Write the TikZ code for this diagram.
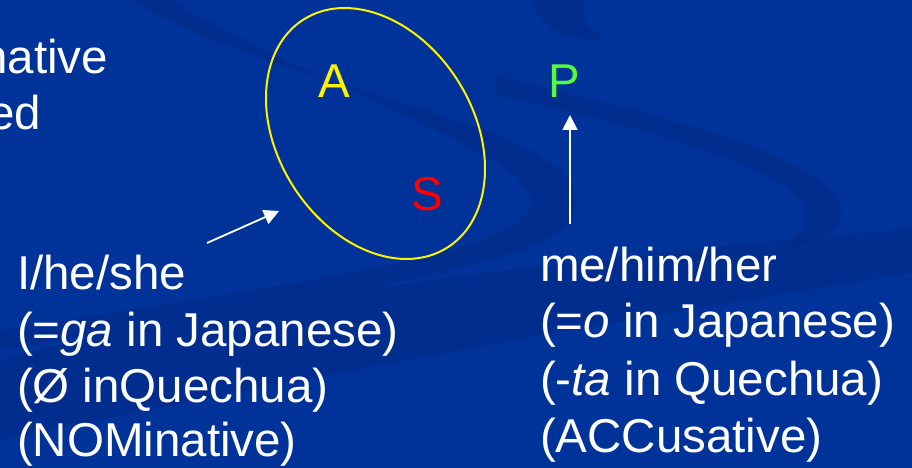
\documentclass[tikz,border=0pt]{standalone}
\usepackage{fontspec}
\setmainfont{Liberation Sans}
\usetikzlibrary{arrows.meta,shapes.geometric}
\definecolor{bgblue}{RGB}{0,51,153}
\definecolor{swirl}{RGB}{0,42,135}
\definecolor{agreen}{RGB}{85,250,60}
\tikzset{
  txt/.style={text=white, inner sep=0pt, outer sep=0pt, font=\fontsize{47.5}{56}\selectfont},
  letter/.style={inner sep=0pt, outer sep=0pt, anchor=base, font=\fontsize{47.5}{56}\selectfont},
  arr/.style={draw=white, line width=1.8pt, -{Triangle[width=15pt,length=15pt]}},
  band/.style={fill=swirl, draw=none, opacity=0.6}
}
\begin{document}
\begin{tikzpicture}[x=1pt,y=1pt]
\useasboundingbox (0,0) rectangle (912,468);
\clip (0,0) rectangle (912,468);
\fill[bgblue] (0,0) rectangle (912,468);
% background swirls (y = 468 - image y)
\path[band] (130,468) .. controls (300,368) and (590,348) .. (575,258)
  .. controls (565,208) and (400,183) .. (0,118)
  -- (0,138) .. controls (350,193) and (520,218) .. (530,263)
  .. controls (540,308) and (350,368) .. (170,468) -- cycle;
\path[band] (530,468) .. controls (545,430) and (580,428) .. (605,428)
  .. controls (585,440) and (580,455) .. (585,468) -- cycle;
\path[band] (495,393) .. controls (620,360) and (760,335) .. (830,280)
  .. controls (860,250) and (830,225) .. (770,215)
  .. controls (810,235) and (820,260) .. (780,285)
  .. controls (720,320) and (600,350) .. (495,373) -- cycle;
\path[band] (0,108) .. controls (200,160) and (450,198) .. (912,240)
  -- (912,195) .. controls (700,160) and (500,130) .. (0,28) -- cycle;
% ellipse grouping A and S
\node (grp) [draw=yellow, line width=2pt, ellipse, minimum width=269.6pt,
  minimum height=195.6pt, inner sep=0pt, rotate=-57.9] at (375.5,334.5) {};
% role letters
\node (A) [letter, text=yellow] at (334,370) {A};
\node (S) [letter, text=red] at (427,257) {S};
\node (P) [letter, text=agreen] at (564,370) {P};
% partially visible text at top left
\node (t1) [txt, anchor=base east] at (108,394) {native};
\node (t2) [txt, anchor=base east] at (41,338) {ed};
% nominative block
\node (n1) [txt, anchor=base west] at (17,178) {I/he/she};
\node (n2) [txt, anchor=base west] at (17,121) {(=\textit{ga} in Japanese)};
\node (n3) [txt, anchor=base west] at (17,65) {(Ø inQuechua)};
\node (n4) [txt, anchor=base west] at (17,11) {(NOMinative)};
% accusative block
\node (c1) [txt, anchor=base west] at (540,186) {me/him/her};
\node (c2) [txt, anchor=base west] at (540,130) {(=\textit{o} in Japanese)};
\node (c3) [txt, anchor=base west] at (540,72) {(-\textit{ta} in Quechua)};
\node (c4) [txt, anchor=base west] at (540,16) {(ACCusative)};
% arrows
\coordinate (ntail) at (207,225);
\coordinate (ntip) at (279,257);
\draw[arr] (ntail) -- (ntip);
\coordinate (ptail) at (570,244);
\coordinate (ptip) at (570,353);
\draw[arr] (ptail) -- (ptip);
\end{tikzpicture}
\end{document}
